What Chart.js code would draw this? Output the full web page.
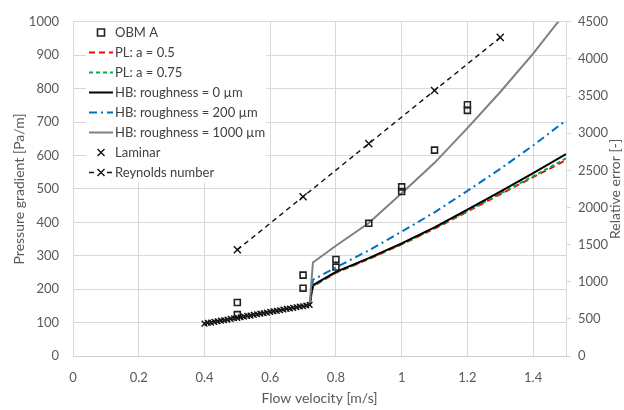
<!DOCTYPE html>
<html>
<head>
<meta charset="utf-8">
<script src="https://cdn.jsdelivr.net/npm/chart.js@4/dist/chart.umd.min.js"></script>
<style>
html,body{margin:0;padding:0;background:#fff;}
#c{display:block;}
</style>
</head>
<body>
<canvas id="c" width="624" height="410"></canvas>
<script>
// ---- data ----
const obmVelocity = [0.5, 0.5, 0.7, 0.7, 0.8, 0.8, 0.9, 1.0, 1.0, 1.1, 1.2, 1.2];
const obmGradient = [160, 124, 242, 203, 289, 266, 397, 506, 492, 616, 752, 735];

const modelVelocity = [0.40, 0.72, 0.73, 0.80, 0.90, 1.00, 1.10, 1.20, 1.30, 1.40, 1.50];
const plA05   = [97, 153, 209, 249, 290, 334, 381, 432, 484, 535, 586];
const plA075  = [97, 153, 210, 250, 291, 335, 383, 434, 486, 538, 591];
const hb0     = [97, 153, 212, 252, 293, 337, 385, 438, 492, 547, 604];
const hb200   = [97, 153, 228, 265, 316, 372, 430, 494, 560, 630, 705];
const hb1000  = [97, 153, 280, 330, 398, 487, 578, 682, 790, 905, 1030];

const laminarVelocity = [0.40,0.41,0.42,0.43,0.44,0.45,0.46,0.47,0.48,0.49,0.50,0.51,0.52,0.53,0.54,0.55,0.56,0.57,0.58,0.59,0.60,0.61,0.62,0.63,0.64,0.65,0.66,0.67,0.68,0.69,0.70,0.71,0.72];
const laminarGradient = [97,99,100,102,104,106,107,109,111,113,114,116,118,120,121,123,125,127,128,130,132,134,135,137,139,141,142,144,146,148,149,151,153];

const reynoldsVelocity = [0.5, 0.7, 0.9, 1.1, 1.3];
const reynoldsNumber   = [1430, 2145, 2860, 3575, 4290];

const xTicks = {min: 0, max: 1.5, step: 0.2};
const yTicks = {min: 0, max: 1000, step: 100};
const y2Ticks = {min: 0, max: 4500, step: 500};

function pts(xs, ys){ return xs.map((x,i)=>({x:x, y:ys[i]})); }

const FONT = 'Lato, "Open Sans", sans-serif';
const TXT = '#595959';

const datasets = [
  {label:'OBM A', data:pts(obmVelocity, obmGradient), showLine:false, pointStyle:'rect',
   pointRadius:4.2, borderColor:'#222', backgroundColor:'rgba(255,255,255,0)', borderWidth:1.6, yAxisID:'y', order:1},
  {label:'PL: a = 0.5', data:pts(modelVelocity, plA05), showLine:true, pointRadius:0,
   borderColor:'#ff0000', borderWidth:2, borderDash:[6,4], yAxisID:'y', order:6},
  {label:'PL: a = 0.75', data:pts(modelVelocity, plA075), showLine:true, pointRadius:0,
   borderColor:'#00b050', borderWidth:2, borderDash:[4,3], yAxisID:'y', order:5},
  {label:'HB: roughness = 0 µm', data:pts(modelVelocity, hb0), showLine:true, pointRadius:0,
   borderColor:'#000000', borderWidth:2, yAxisID:'y', order:4},
  {label:'HB: roughness = 200 µm', data:pts(modelVelocity, hb200), showLine:true, pointRadius:0,
   borderColor:'#0070c0', borderWidth:2, borderDash:[8,4,2,4], yAxisID:'y', order:3},
  {label:'HB: roughness = 1000 µm', data:pts(modelVelocity, hb1000), showLine:true, pointRadius:0,
   borderColor:'#808080', borderWidth:2, yAxisID:'y', order:2},
  {label:'Laminar', data:pts(laminarVelocity, laminarGradient), showLine:false, pointStyle:'crossRot',
   pointRadius:4, borderColor:'#111', borderWidth:1.4, yAxisID:'y', order:0},
  {label:'Reynolds number', data:pts(reynoldsVelocity, reynoldsNumber), showLine:true, pointStyle:'crossRot',
   pointRadius:5, borderColor:'#111', backgroundColor:'#111', borderWidth:1.4, borderDash:[5,4], yAxisID:'y2', order:0}
];

function fmt(v){ return String(Number(v.toFixed(1))); }
function plain(v){ return String(v); }

// custom legend inside plot area
const legendPlugin = {
  id:'insideLegend',
  afterDraw(chart){
    const ctx = chart.ctx;
    ctx.save();
    ctx.fillStyle = '#ffffff';
    ctx.fillRect(86, 22, 180, 160);
    const x0 = 89, x1 = 113, tx = 115;
    chart.data.datasets.forEach((ds, i) => {
      const y = 32.5 + 20*i;
      const cx = (x0 + x1)/2;
      ctx.lineWidth = ds.borderWidth;
      ctx.strokeStyle = ds.borderColor;
      if (ds.showLine) {
        ctx.setLineDash(ds.borderDash || []);
        ctx.beginPath(); ctx.moveTo(x0, y); ctx.lineTo(x1, y); ctx.stroke();
        ctx.setLineDash([]);
      }
      if (ds.pointStyle === 'rect' || ds.pointStyle === 'crossRot') {
        const r = 3.5;
        if (ds.showLine) { ctx.fillStyle='#fff'; ctx.fillRect(cx-r-1, y-r-1, 2*r+2, 2*r+2); }
        ctx.beginPath();
        if (ds.pointStyle === 'rect') {
          ctx.rect(cx - r, y - r, 2*r, 2*r);
        } else {
          ctx.moveTo(cx-r, y-r); ctx.lineTo(cx+r, y+r);
          ctx.moveTo(cx+r, y-r); ctx.lineTo(cx-r, y+r);
        }
        ctx.stroke();
      }
      ctx.fillStyle = '#404040';
      ctx.font = '13px ' + FONT;
      ctx.textBaseline = 'middle';
      ctx.textAlign = 'left';
      ctx.fillText(ds.label, tx, y);
    });
    // right axis title, reading bottom to top
    const a = chart.chartArea;
    ctx.translate(615, (a.top + a.bottom)/2);
    ctx.rotate(-Math.PI/2);
    ctx.fillStyle = TXT;
    ctx.font = '14px ' + FONT;
    ctx.textAlign = 'center';
    ctx.textBaseline = 'middle';
    ctx.fillText('Relative error [-]', 0, 0);
    ctx.restore();
  }
};

new Chart(document.getElementById('c'), {
  type:'scatter',
  data:{datasets:datasets},
  plugins:[legendPlugin],
  options:{
    responsive:false,
    animation:false,
    devicePixelRatio:1,
    layout:{padding:{top:15, left:0, right:0, bottom:0}},
    plugins:{legend:{display:false}, tooltip:{enabled:false}},
    scales:{
      x:{
        type:'linear', min:xTicks.min, max:xTicks.max,
        ticks:{stepSize:xTicks.step, includeBounds:false, color:TXT, font:{family:FONT, size:13}, padding:14, callback:fmt},
        grid:{color:'#d9d9d9', drawTicks:false},
        border:{color:'#d0d0d0'},
        title:{display:true, text:'Flow velocity [m/s]', color:TXT, font:{family:FONT, size:14}, padding:{top:0,bottom:3}},
        afterFit(s){ s.height = 54; }
      },
      y:{
        type:'linear', position:'left', min:yTicks.min, max:yTicks.max,
        ticks:{stepSize:yTicks.step, color:TXT, font:{family:FONT, size:13}, padding:14, callback:plain},
        grid:{color:'#d9d9d9', drawTicks:false},
        border:{display:false},
        title:{display:true, text:'Pressure gradient [Pa/m]', color:TXT, font:{family:FONT, size:14}, padding:{top:11,bottom:0}},
        afterFit(s){ s.width = 73; }
      },
      y2:{
        type:'linear', position:'right', min:y2Ticks.min, max:y2Ticks.max,
        ticks:{stepSize:y2Ticks.step, color:TXT, font:{family:FONT, size:13}, padding:7, callback:plain},
        grid:{drawOnChartArea:false, drawTicks:true, tickLength:5, color:'#d9d9d9'},
        border:{display:true, color:'#d9d9d9'},
        afterFit(s){ s.width = 58; }
      }
    }
  }
});
</script>
</body>
</html>
